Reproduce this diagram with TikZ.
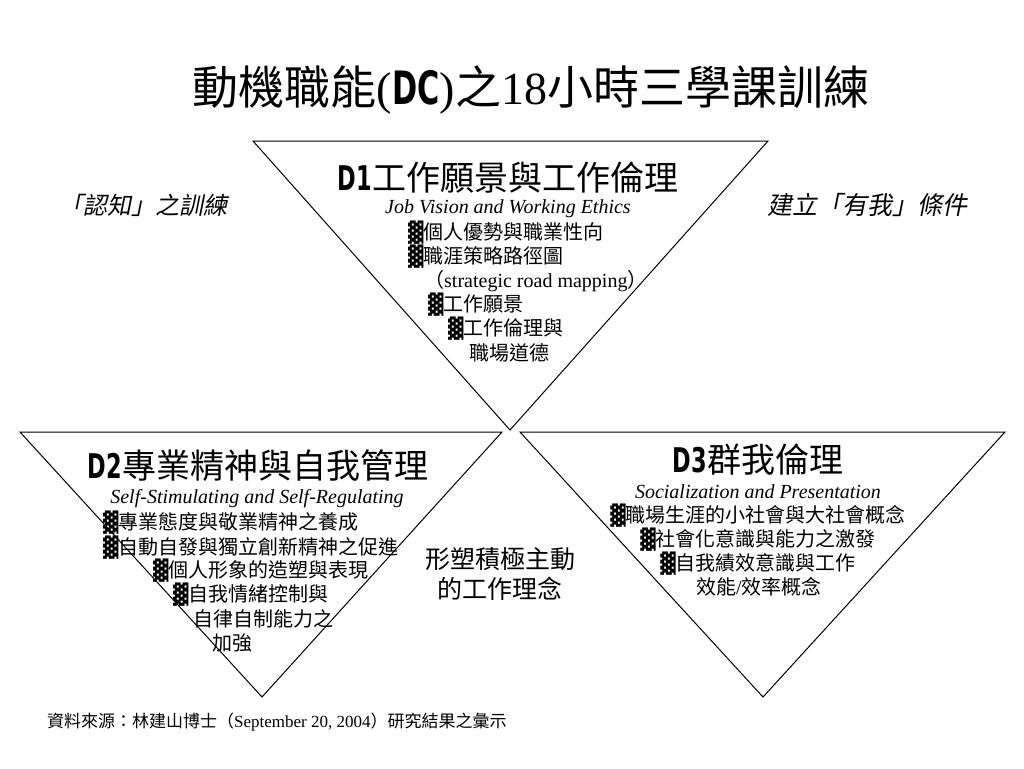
\documentclass[tikz,border=0pt]{standalone}
\usepackage{fontspec}
\setmainfont{Liberation Serif}
\newfontfamily\cjk{Noto Sans CJK TC}
\newfontfamily\cjkit[FakeSlant=0.2]{Noto Sans CJK TC}
\newfontfamily\blk{DejaVu Sans}
\newfontfamily\hd[FakeStretch=0.66]{DejaVu Sans}
\newcommand\bul{{\blk ▓}}
\newcommand\fs[1]{\fontsize{#1}{#1}\selectfont}
\tikzset{
  tri/.style={draw=black, line width=1pt, line join=miter},
  txt/.style={inner sep=0pt, font=\cjk\fs{20}},
  eng/.style={inner sep=0pt, font=\itshape\fs{20}},
  head/.style={inner sep=0pt, font=\cjk\fs{34}},
}
\begin{document}
\begin{tikzpicture}[x=1pt,y=-1pt]
\fill[white] (0,0) rectangle (1024,768);
\useasboundingbox (0,0) rectangle (1024,768);
% triangles
\coordinate (a1) at (253,141); \coordinate (b1) at (768,141); \coordinate (c1) at (510,430);
\coordinate (a2) at (20,432); \coordinate (b2) at (502,432); \coordinate (c2) at (262,697);
\coordinate (a3) at (520,432); \coordinate (b3) at (1005,432); \coordinate (c3) at (763,697);
\draw[tri] (a1) -- (b1) -- (c1) -- cycle;
\draw[tri] (a2) -- (b2) -- (c2) -- cycle;
\draw[tri] (a3) -- (b3) -- (c3) -- cycle;
% title
\node[inner sep=0pt, font=\fs{46}] (title) at (531,90) {{\cjk 動機職能}({\hd\bfseries DC}){\cjk 之}18{\cjk 小時三學課訓練}};
% side labels
\node[inner sep=0pt, font=\cjkit\fs{24}] (left) at (143,205) {「認知」之訓練};
\node[inner sep=0pt, font=\cjkit\fs{25}] (right) at (867,205) {建立「有我」條件};
% D1
\node[head] (h1) at (508,178) {{\hd\bfseries D1}工作願景與工作倫理};
\node[eng] (e1) at (508,209) {Job Vision and Working Ethics};
\node[txt, anchor=west] (d1a) at (408,233) {\bul 個人優勢與職業性向};
\node[txt, anchor=west] (d1b) at (408,257) {\bul 職涯策略路徑圖};
\node[txt, anchor=west] (d1c) at (424,281) {（{\rmfamily\fs{20}strategic road mapping}）};
\node[txt, anchor=west] (d1d) at (428,305) {\bul 工作願景};
\node[txt, anchor=west] (d1e) at (448,329) {\bul 工作倫理與};
\node[txt] (d1f) at (509,353) {職場道德};
% D2
\node[head] (h2) at (258,466) {{\hd\bfseries D2}專業精神與自我管理};
\node[eng] (e2) at (257,499) {Self-Stimulating and Self-Regulating};
\node[txt, anchor=west] (d2a) at (103,523) {\bul 專業態度與敬業精神之養成};
\node[txt, anchor=west] (d2b) at (103,548) {\bul 自動自發與獨立創新精神之促進};
\node[txt, anchor=west] (d2c) at (153,571) {\bul 個人形象的造塑與表現};
\node[txt, anchor=west] (d2d) at (173,595) {\bul 自我情緒控制與};
\node[txt, anchor=west] (d2e) at (193,619) {自律自制能力之};
\node[txt, anchor=west] (d2f) at (212,643) {加強};
% middle
\node[inner sep=0pt, font=\cjk\fs{25}, align=center] (mid) at (500,574) {形塑積極主動\\[5pt]的工作理念};
% D3
\node[head] (h3) at (758,460) {{\hd\bfseries D3}群我倫理};
\node[eng] (e3) at (758,492) {Socialization and Presentation};
\node[txt] (d3a) at (758,516) {\bul 職場生涯的小社會與大社會概念};
\node[txt] (d3b) at (758,540) {\bul 社會化意識與能力之激發};
\node[txt] (d3c) at (758,564) {\bul 自我績效意識與工作};
\node[txt] (d3d) at (759,587) {效能{\rmfamily /}效率概念};
% footer
\node[inner sep=0pt, font=\cjk\fs{17}, anchor=west] (src) at (47,722) {資料來源：林建山博士（{\rmfamily September 20, 2004}）研究結果之彙示};
\end{tikzpicture}
\end{document}
